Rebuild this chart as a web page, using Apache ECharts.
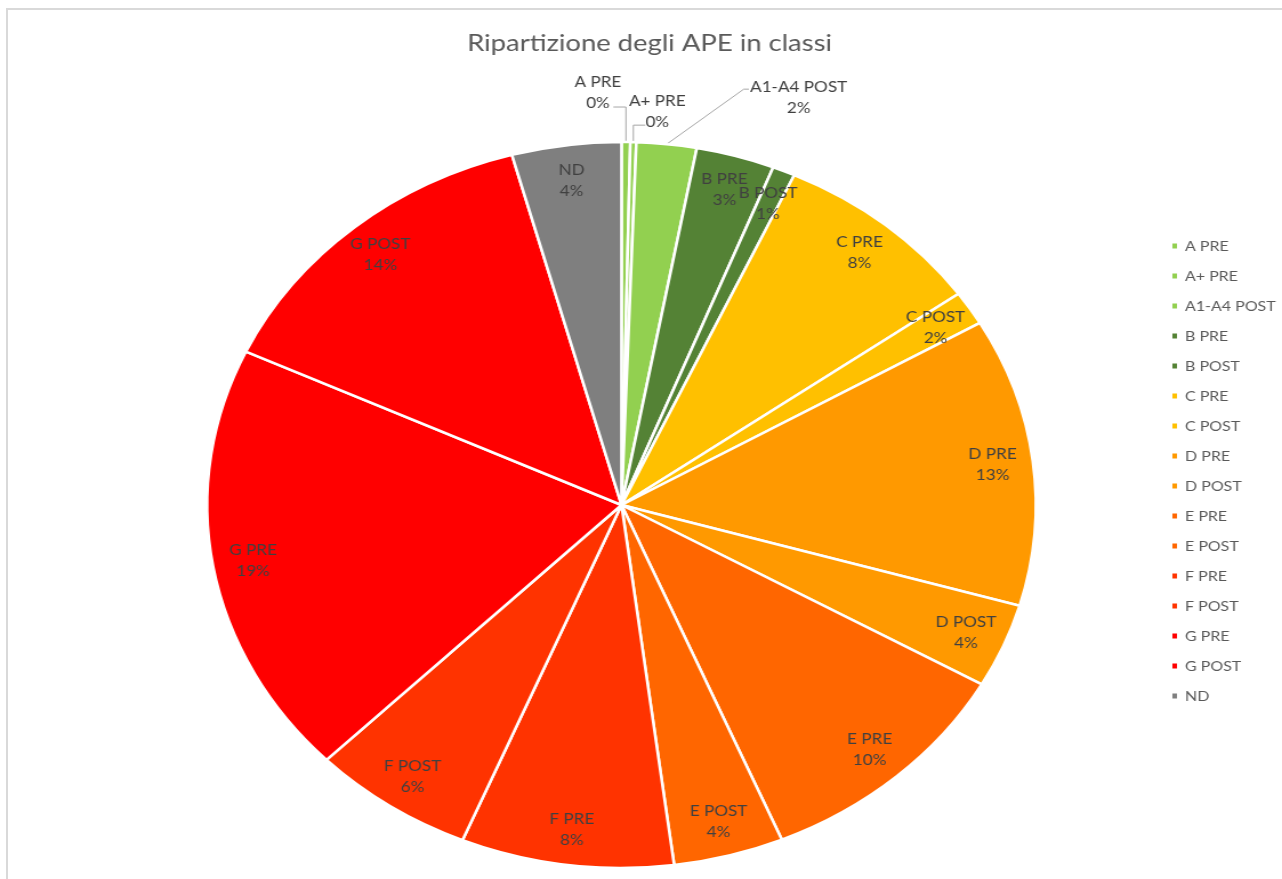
<!DOCTYPE html>
<html>
<head>
<meta charset="utf-8">
<script src="https://cdn.jsdelivr.net/npm/echarts@6/dist/echarts.min.js"></script>
<style>
html, body { margin: 0; padding: 0; background: #fff; overflow: hidden; width: 1282px; height: 879px; }
#frame { position: absolute; left: 6px; top: 8px; width: 1400px; height: 1000px; border-left: 2px solid #d9d9d9; border-top: 2px solid #d9d9d9; }
#chart { position: absolute; left: 0; top: 0; width: 1123px; height: 879px; transform: scaleX(1.141585); transform-origin: 0 0; }
</style>
</head>
<body>
<div id="frame"></div>
<div id="chart"></div>
<script>
const chartTitle = 'Ripartizione degli APE in classi';
const categories = ['A PRE','A+ PRE','A1-A4 POST','B PRE','B POST','C PRE','C POST','D PRE','D POST','E PRE','E POST','F PRE','F POST','G PRE','G POST','ND'];
const values = [0.34, 0.23, 2.34, 3.06, 0.88, 8.27, 1.52, 12.85, 3.75, 10.45, 4.30, 8.30, 6.34, 19.35, 13.80, 4.26];
const colors = ['#92D050','#92D050','#92D050','#548235','#548235','#FFC000','#FFC000','#FF9900','#FF9900','#FF6600','#FF6600','#FF3300','#FF3300','#FF0000','#FF0000','#7F7F7F'];
const outsideLabels = ['A PRE','A+ PRE','A1-A4 POST'];

const total = values.reduce((a, b) => a + b, 0);
const FONT = 'Lato';
const CENTER = [544.4, 505];
const R = 363;

const mainData = categories.map((n, i) => ({ name: n, value: values[i], itemStyle: { color: colors[i] } }));
const labelData = categories.map((n, i) => {
  const outside = outsideLabels.indexOf(n) >= 0;
  return {
    name: n, value: values[i],
    label: { position: outside ? 'outside' : 'inside' },
    labelLine: { show: outside }
  };
});

const chart = echarts.init(document.getElementById('chart'), null, { renderer: 'canvas' });
chart.setOption({
  animation: false,
  backgroundColor: 'transparent',
  title: {
    text: chartTitle,
    left: 569,
    top: 29,
    padding: 0,
    textAlign: 'center',
    textStyle: { fontFamily: FONT, fontSize: 24, fontWeight: 'normal', color: '#595959', lineHeight: 28 }
  },
  legend: {
    data: categories,
    orient: 'vertical',
    left: 1025,
    top: 238,
    padding: 0,
    itemWidth: 6,
    itemHeight: 7,
    itemGap: 14,
    icon: 'rect',
    selectedMode: false,
    textStyle: { fontFamily: FONT, fontSize: 14, color: '#595959', lineHeight: 16, padding: [0, 0, 0, 1] }
  },
  series: [
    {
      type: 'pie',
      center: CENTER,
      radius: R,
      startAngle: 90,
      clockwise: true,
      avoidLabelOverlap: false,
      silent: true,
      itemStyle: { borderColor: '#ffffff', borderWidth: 2.5 },
      label: { show: false },
      labelLine: { show: false },
      data: mainData
    },
    {
      type: 'pie',
      center: CENTER,
      radius: [286, R],
      startAngle: 90,
      clockwise: true,
      avoidLabelOverlap: false,
      silent: true,
      itemStyle: { color: 'rgba(0,0,0,0)', borderWidth: 0 },
      label: {
        show: true,
        fontFamily: FONT,
        fontSize: 15,
        lineHeight: 21,
        color: '#404040',
        align: 'center',
        formatter: p => p.name + '\n' + Math.round(p.value / total * 100) + '%'
      },
      labelLine: { show: false, lineStyle: { color: '#a6a6a6', width: 1 } },
      labelLayout: function (p) {
        const name = categories[p.dataIndex];
        const pts = p.labelLinePoints;
        if (!pts || outsideLabels.indexOf(name) < 0) return {};
        const x0 = pts[0][0], y0 = pts[0][1];
        const w = p.labelRect.width;
        if (name === 'A PRE') {
          return { x: x0 - 4 - w / 2, y: y0 - 49, align: 'center', verticalAlign: 'middle',
                   labelLinePoints: [[x0, y0], [x0, y0 - 35], [x0 - 11, y0 - 35]] };
        }
        if (name === 'A+ PRE') {
          return { x: x0 + 21, y: y0 - 30, align: 'center', verticalAlign: 'middle',
                   labelLinePoints: [[x0, y0], [x0, y0 - 17], [x0 + 10.5, y0 - 17]] };
        }
        return { x: x0 + 73 + w / 2, y: y0 - 47, align: 'center', verticalAlign: 'middle',
                 labelLinePoints: [[x0, y0], [x0 + 67.5, y0 - 55], [x0 + 72, y0 - 55]] };
      },
      data: labelData
    }
  ]
});
</script>
</body>
</html>
